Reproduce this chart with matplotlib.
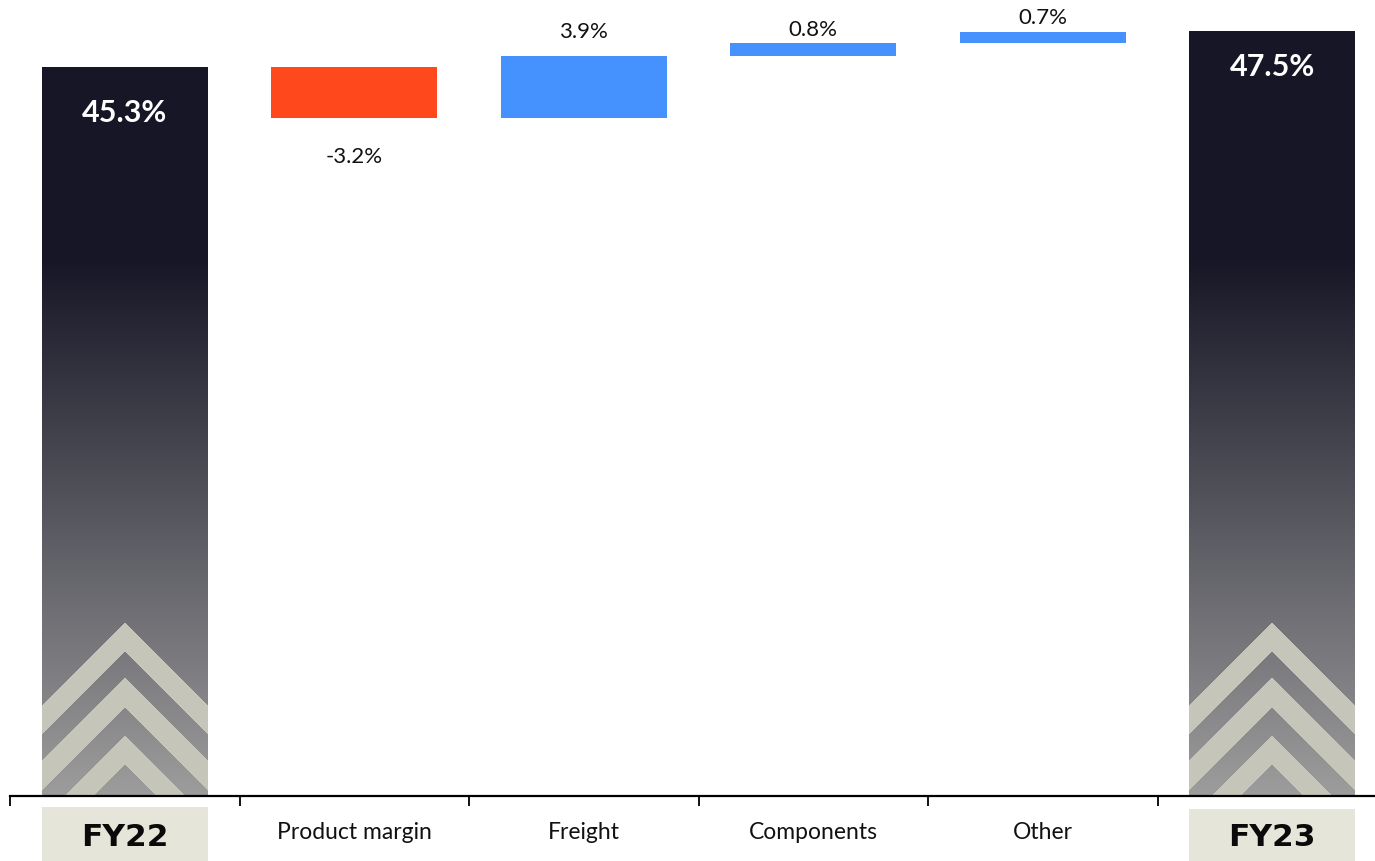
import numpy as np
import matplotlib
matplotlib.use("Agg")
import matplotlib.pyplot as plt
from matplotlib.transforms import blended_transform_factory

# ---- data ----
categories = ["FY22", "Product margin", "Freight", "Components", "Other", "FY23"]
start_value = 45.3
deltas = [-3.2, 3.9, 0.8, 0.7]
end_value = 47.5
value_labels = ["45.3%", "-3.2%", "3.9%", "0.8%", "0.7%", "47.5%"]

# ---- style ----
RED = "#ff481b"
BLUE = "#4592ff"
DARK = np.array([0x16, 0x16, 0x26]) / 255.0
GRAY = np.array([0x9d, 0x9d, 0x9d]) / 255.0
CHEV = np.array([0xc5, 0xc5, 0xb9]) / 255.0
BOX = "#e5e5da"

W, H = 1375, 862
fig = plt.figure(figsize=(W / 100, H / 100), dpi=100)
base_px = 797
ax = fig.add_axes([10 / W, (H - base_px) / H, 1377 / W, base_px / H])
yppu = 729 / 45.3
ymax = base_px / yppu
ax.set_xlim(-0.5, 5.5)
ax.set_ylim(0, ymax)
xppu = 1377 / 6.0
bw = 166 / xppu

for s in ["top", "left", "right"]:
    ax.spines[s].set_visible(False)
ax.spines["bottom"].set_linewidth(1.6)
ax.spines["bottom"].set_color("black")
ax.set_yticks([])
ax.set_xticks(np.arange(-0.5, 6.0, 1.0))
ax.tick_params(axis="x", direction="out", length=7, width=1.3, labelbottom=False, color="black")


def gradient_bar(xc, top):
    wpx = int(round(bw * xppu))
    hpx = int(round(top * yppu))
    xs = (np.arange(wpx) + 0.5) - wpx / 2.0
    hs = np.arange(hpx) + 0.5
    X, Hh = np.meshgrid(np.abs(xs), hs)
    t = np.clip(Hh / 537.0, 0, 1)[..., None]
    img = GRAY * (1 - t) + DARK * t
    s = Hh + X
    band = ((s >= 145) & (s <= 173)) | ((s >= 89) & (s <= 118)) | ((s >= 32) & (s <= 60))
    img[band] = CHEV
    ax.imshow(img, extent=(xc - bw / 2, xc + bw / 2, 0, top), origin="lower",
              aspect="auto", interpolation="nearest", zorder=2)


# totals
gradient_bar(0, start_value)
gradient_bar(5, end_value)

# deltas
cum = start_value
bottoms = []
for i, d in enumerate(deltas):
    bottoms.append(cum)
    ax.bar(i + 1, d, bottom=cum, width=bw, color=RED if d < 0 else BLUE, zorder=2)
    cum += d
ax.set_xlim(-0.5, 5.5)
ax.set_ylim(0, ymax)

# value labels
ax.annotate(value_labels[0], (0, start_value), xytext=(0, -45), textcoords="offset pixels",
            ha="center", va="center", color="white", fontsize=22, fontweight="bold",
            family="Lato", zorder=5)
ax.annotate(value_labels[5], (5, end_value), xytext=(0, -34), textcoords="offset pixels",
            ha="center", va="center", color="white", fontsize=22, fontweight="bold",
            family="Lato", zorder=5)
label_offsets = [-38, 25, 14, 15]
for i, d in enumerate(deltas):
    yref = bottoms[i] + d
    ax.annotate(value_labels[i + 1], (i + 1, yref), xytext=(0, label_offsets[i]),
                textcoords="offset pixels", ha="center", va="center", color="#111111",
                fontsize=16, family="Lato", zorder=5)

# category labels
trans = blended_transform_factory(ax.transData, fig.transFigure)
for i, c in enumerate(categories):
    if i in (0, 5):
        ytop = 808 if i == 0 else 810
        ax.add_patch(plt.Rectangle((i - bw / 2, 0), bw, (H - ytop) / H, transform=trans,
                                   facecolor=BOX, edgecolor="none", clip_on=False, zorder=1))
        ax.text(i, (H - 838) / H, c, transform=trans, ha="center", va="center",
                fontsize=22.5, fontweight="bold", family="DejaVu Sans", color="#0a0a0a")
    else:
        ax.text(i, (H - 839) / H, c, transform=trans, ha="center", va="baseline",
                fontsize=16.5, family="Lato", color="#111111")

fig.savefig("out.png", dpi=100)
